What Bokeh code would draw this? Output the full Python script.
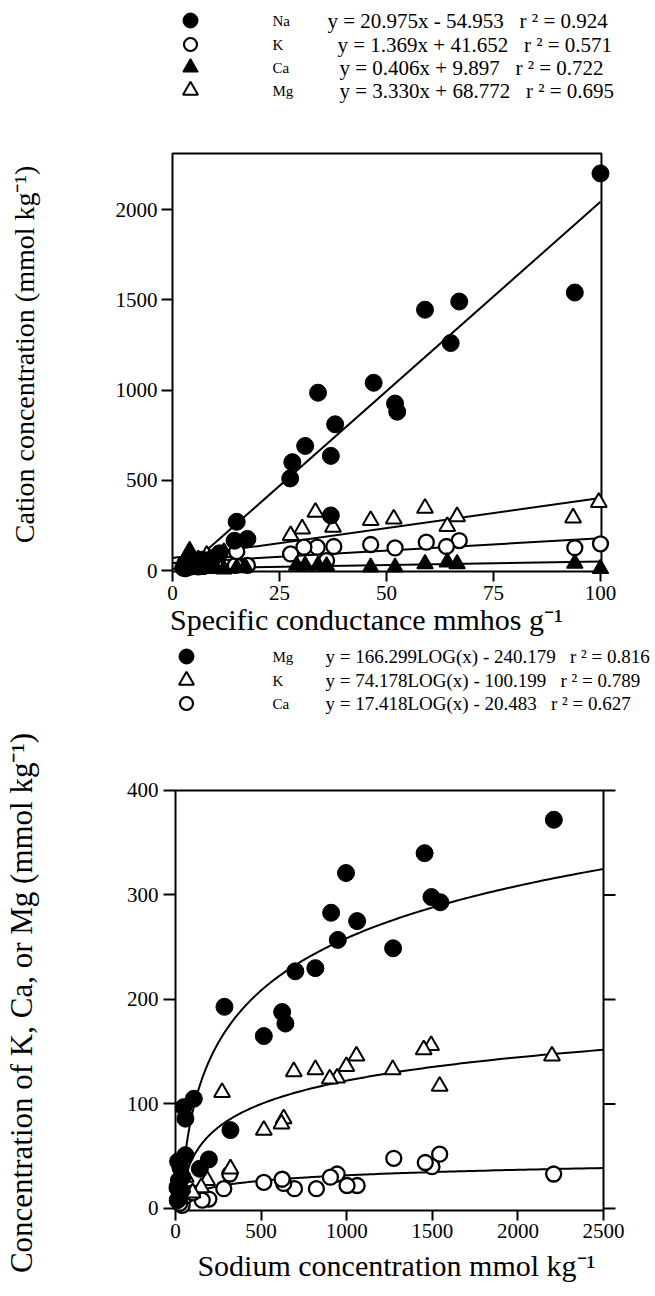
import numpy as np
from bokeh.plotting import figure
from bokeh.layouts import column
from bokeh.models import Range1d
from bokeh.embed import file_html
from bokeh.resources import INLINE
from bokeh.core.properties import value

FONT = "Liberation Serif"
W = 654
NB = "\u00a0"

# ---------------- Top panel: cations vs specific conductance ----------------
cond_na = [100, 94, 67, 65, 59, 52, 52.5, 47, 38, 37, 37, 34, 31, 28, 27.5, 17.5, 15, 14.5,
           11, 9.5, 8, 7, 6, 5, 4, 3, 2.5]
na = [2200, 1540, 1490, 1260, 1445, 925, 880, 1040, 810, 635, 305, 985, 690, 600, 510, 175, 270, 165,
      95, 70, 45, 60, 30, 50, 20, 40, 15]

cond_k = [100, 94, 67, 64, 59.3, 52, 46.3, 37.7, 36, 33.8, 30.7, 27.6, 17.5, 14.7, 15, 10, 8, 6, 4, 3]
k = [148, 126, 166, 133, 157, 125, 144, 133, 55, 129, 129, 92, 28, 28, 105, 30, 40, 20, 35, 10]

cond_ca = [100, 94, 66.5, 64.2, 59, 52, 46.3, 36, 34, 31, 29, 17, 15, 12, 10, 8, 6, 4]
ca = [10, 40, 37, 46, 37, 18, 18, 25, 28, 28, 28, 20, 15, 8, 15, 10, 5, 110]

cond_mg = [99.6, 93.6, 66.5, 64.2, 59, 51.7, 46.3, 37.5, 33.4, 30.3, 27.6, 15, 12, 8, 6]
mg = [378, 292, 299, 244, 345, 286, 277, 240, 323, 231, 194, 120, 100, 85, 60]

top_names = ["Na", "K", "Ca", "Mg"]
top_eqs = ["y = 20.975x - 54.953", "y = 1.369x + 41.652", "y = 0.406x + 9.897", "y = 3.330x + 68.772"]
top_r2 = ["0.924", "0.571", "0.722", "0.695"]
top_slope = [20.975, 1.369, 0.406, 3.330]
top_icpt = [-54.953, 41.652, 9.897, 68.772]
top_xticks = [0, 25, 50, 75, 100]
top_yticks = [0, 500, 1000, 1500, 2000]

# ---------------- Bottom panel: K, Ca, Mg vs sodium ----------------
na_mg = [2210, 1455, 1495, 1547, 1271, 996, 909, 1061, 948, 817, 700, 286, 623, 642, 516, 321,
         107, 48, 58, 195, 58, 142, 29, 20, 35, 12, 15, 40, 25, 10]
mg_b = [372, 340, 298, 293, 249, 321, 283, 275, 257, 230, 227, 193, 188, 177, 165, 75,
        105, 97, 86, 47, 51, 38, 39, 27, 17, 8, 45, 30, 15, 20]

na_k = [2199, 1543, 1493, 1450, 1269, 1057, 998, 944, 901, 817, 691, 632, 619, 516, 272, 321,
        185, 150, 100, 60, 40, 25]
k_b = [146, 117, 156, 152, 133, 146, 136, 125, 124, 133, 131, 86, 81, 75, 111, 38,
       27, 20, 15, 30, 20, 10]

na_ca = [2209, 1543, 1498, 1459, 1275, 1061, 1002, 944, 905, 823, 695, 632, 623, 516, 317, 282,
         195, 156, 39, 60, 100, 25]
ca_b = [33, 52, 40, 44, 48, 22, 22, 33, 30, 19, 19, 24, 28, 25, 33, 19,
        9, 8, 3, 12, 15, 5]

bot_names = ["Mg", "K", "Ca"]
bot_eqs = ["y = 166.299LOG(x) - 240.179", "y = 74.178LOG(x) - 100.199", "y = 17.418LOG(x) - 20.483"]
bot_r2 = ["0.816", "0.789", "0.627"]
bot_a = [166.299, 74.178, 17.418]
bot_b = [-240.179, -100.199, -20.483]
bot_xticks = [0, 500, 1000, 1500, 2000, 2500]
bot_yticks = [0, 100, 200, 300, 400]

# ---------------- marker styles ----------------
STY = {
    "fc": dict(marker="circle", size=17, fill_color="black", line_color="black", line_width=1),
    "oc": dict(marker="circle", size=15, fill_color="white", line_color="black", line_width=2.3),
    "ft": dict(marker="triangle", size=16, fill_color="black", line_color="black", line_width=1.5),
    "ot": dict(marker="triangle", size=16, fill_color="white", line_color="black", line_width=2),
}
LEG_STY = {
    "fc": dict(marker="circle", size=15, fill_color="black", line_color="black", line_width=1),
    "oc": dict(marker="circle", size=13, fill_color="white", line_color="black", line_width=2.2),
    "ft": dict(marker="triangle", size=15, fill_color="black", line_color="black", line_width=1.5),
    "ot": dict(marker="triangle", size=15, fill_color="white", line_color="black", line_width=2),
}

# all figures share left border 168 and right border 0 -> frames start at page x 168
BL = 168


def legend_fig(y_top, y_bot):
    # data coordinates of the legend strips are page pixels
    f = figure(width=W, height=y_bot - y_top, x_range=Range1d(BL, W), y_range=Range1d(y_bot, y_top),
               output_backend="svg", toolbar_location=None, min_border_left=BL, min_border_right=0,
               min_border_top=0, min_border_bottom=0, x_axis_location=None, y_axis_location=None)
    f.grid.visible = False
    f.outline_line_color = None
    return f


def legend_rows(f, ys, mx, nx, exs, styles, names, eqs, r2s, eq_size, gap):
    for y, st in zip(ys, styles):
        f.scatter(x=[mx], y=[y], **LEG_STY[st])
    f.text(x=[nx] * len(ys), y=ys, text=names, text_font=value(FONT), text_font_size="15px",
           text_baseline="middle", text_align="left", text_color="black")
    full = [e + NB * gap + "r" + NB + "\u00b2" + NB + "= " + r for e, r in zip(eqs, r2s)]
    f.text(x=exs, y=ys, text=full, text_font=value(FONT), text_font_size=eq_size,
           text_baseline="middle", text_align="left", text_color="black")


def style_axis(ax, tick_in, tick_out, standoff, label_size="30px"):
    ax.axis_line_color = None
    ax.major_tick_in = tick_in
    ax.major_tick_out = tick_out
    ax.major_tick_line_width = 2
    ax.major_tick_line_color = "black"
    ax.minor_tick_line_color = None
    ax.major_label_standoff = standoff
    ax.major_label_text_font = FONT
    ax.major_label_text_font_size = "21px"
    ax.major_label_text_color = "black"
    ax.axis_label_text_font = FONT
    ax.axis_label_text_font_size = label_size
    ax.axis_label_text_font_style = "normal"
    ax.axis_label_text_color = "black"


# ---------------- top legend (page y 0..143) ----------------
leg1 = legend_fig(0, 143)
legend_rows(leg1, [20, 44, 67, 90], 190, 272, [327, 337, 339, 339], ["fc", "oc", "ft", "ot"],
            top_names, top_eqs, top_r2, "21px", 3)

# ---------------- top plot (page y 143..646) ----------------
# frame: page x 168..654, page y 150..579 ; x=0 at 172, x=100 at 600 ; y=0 at 570, y=2000 at 209
p1 = figure(width=W, height=503, x_range=Range1d(-0.935, 112.62), y_range=Range1d(-49.86, 2326.9),
            min_border_left=BL, min_border_right=0, min_border_top=7, min_border_bottom=67,
            output_backend="svg", toolbar_location=None)
p1.grid.visible = False
p1.outline_line_color = None
p1.xaxis.ticker = top_xticks
p1.yaxis.ticker = top_yticks
p1.xaxis.axis_label = "Specific conductance mmhos g\u207b\u00b9" + NB * 12
p1.yaxis.axis_label = NB * 3 + "Cation concentration (mmol kg\u207b\u00b9)"
style_axis(p1.xaxis[0], 8, 2, 4)
style_axis(p1.yaxis[0], 4, 7, 4, "28px")
p1.xaxis.axis_label_standoff = 0
p1.yaxis.axis_label_standoff = 73

p1.quad(left=[0], right=[100.23], bottom=[-5.5], top=[2310.2], fill_color=None,
        line_color="black", line_width=2)
for s, c in zip(top_slope, top_icpt):
    x0 = max(0.0, -c / s)
    p1.line([x0, 100], [s * x0 + c, s * 100 + c], line_color="black", line_width=2)
p1.scatter(cond_mg, mg, **STY["ot"])
p1.scatter(cond_k, k, **STY["oc"])
p1.scatter(cond_ca, ca, **STY["ft"])
p1.scatter(cond_na, na, **STY["fc"])

# ---------------- bottom legend (page y 646..725) ----------------
leg2 = legend_fig(646, 725)
legend_rows(leg2, [656, 680, 703], 186, 272, [325, 325, 325], ["fc", "ot", "oc"],
            bot_names, bot_eqs, bot_r2, "19px", 3)

# ---------------- bottom plot (page y 725..1294) ----------------
# frame: page x 168..654, page y 787..1218 ; x=0 at 175, x=2500 at 603 ; y=0 at 1208, y=400 at 790
p2 = figure(width=W, height=569, x_range=Range1d(-40.89, 2797.9), y_range=Range1d(-9.57, 402.87),
            min_border_left=BL, min_border_right=0, min_border_top=62, min_border_bottom=76,
            output_backend="svg", toolbar_location=None)
p2.grid.visible = False
p2.outline_line_color = None
p2.xaxis.ticker = bot_xticks
p2.yaxis.ticker = bot_yticks
p2.xaxis.axis_label = "Sodium concentration mmol kg\u207b\u00b9" + NB * 4
p2.yaxis.axis_label = "Concentration of K, Ca, or Mg (mmol kg\u207b\u00b9)"
style_axis(p2.xaxis[0], 8, 2, 3)
style_axis(p2.yaxis[0], 7, 5, 5, "31px")
p2.xaxis.axis_label_standoff = 8
p2.yaxis.axis_label_standoff = 85

p2.quad(left=[0], right=[2500], bottom=[-1.9], top=[400], fill_color=None,
        line_color="black", line_width=2)
# outward tick marks on the right-hand side of the box (12 px long)
p2.segment(x0=[2500] * len(bot_yticks), y0=bot_yticks, x1=[2500 + 12 / 0.1712] * len(bot_yticks),
           y1=bot_yticks, line_color="black", line_width=2)
for a, b in zip(bot_a, bot_b):
    x0 = 10 ** (-b / a)
    xs = np.geomspace(x0, 2500, 300)
    p2.line(xs, a * np.log10(xs) + b, line_color="black", line_width=2)
p2.scatter(na_ca, ca_b, **STY["oc"])
p2.scatter(na_k, k_b, **STY["ot"])
p2.scatter(na_mg, mg_b, **STY["fc"])

layout = column(leg1, p1, leg2, p2, spacing=0)
open("out.html", "w").write(file_html(layout, INLINE))
